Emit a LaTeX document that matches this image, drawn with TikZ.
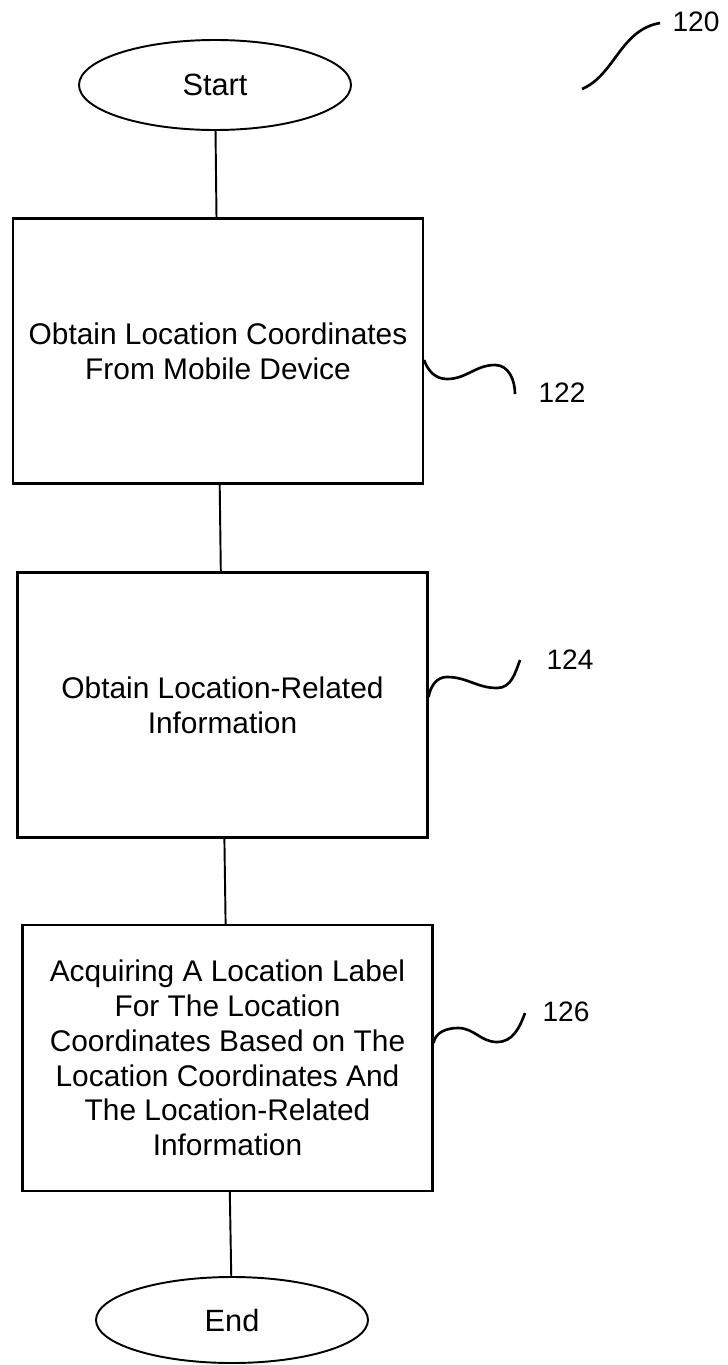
\documentclass[tikz,border=0pt]{standalone}
\usepackage{fontspec}
\setmainfont{Liberation Sans}
\usetikzlibrary{shapes.geometric}

\begin{document}
\begin{tikzpicture}[
    terminal/.style={draw, ellipse, line width=1.1pt, minimum width=5.44cm, minimum height=1.8cm, font=\fontsize{17.5}{19.8}\selectfont},
    stepbox/.style={draw, line width=1.2pt, minimum width=8.2cm, minimum height=5.3cm, align=center, font=\fontsize{17}{19.8}\selectfont},
    link/.style={line width=1.1pt},
    squiggle/.style={line width=1.5pt},
    refnum/.style={font=\fontsize{16}{18}\selectfont},
]
\useasboundingbox (0,0) rectangle (14.54,-27.3);

% flow
\node[terminal] (start) at (4.3, -1.7) {Start};
\node[stepbox] (coords) at (4.36, -7.02) {Obtain Location Coordinates\\From Mobile Device};
\node[stepbox] (related) at (4.45, -14.1) {Obtain Location-Related\\Information};
\node[stepbox, minimum height=5.32cm] (acquire) at (4.55, -21.16) {Acquiring A Location Label\\For The Location\\Coordinates Based on The\\Location Coordinates And\\The Location-Related\\Information};
\node[terminal, minimum height=1.72cm] (finish) at (4.64, -26.4) {End};

\draw[link] (start) -- (coords);
\draw[link] (coords) -- (related);
\draw[link] (related) -- (acquire);
\draw[link] (acquire) -- (finish);

% reference numerals
\node[refnum] (n120) at (13.92, -0.44) {120};
\node[refnum] (n122) at (11.24, -7.86) {122};
\node[refnum] (n124) at (11.4, -13.2) {124};
\node[refnum] (n126) at (11.32, -20.24) {126};

\coordinate (t120) at (13.2, -0.46);
\coordinate (t122) at (10.3, -7.88);
\coordinate (t124) at (10.4, -13.2);
\coordinate (t126) at (10.5, -20.26);

\draw[squiggle] (11.64, -1.78) .. controls (12.3, -1.5) and (12.4, -0.6) .. (t120);
\draw[squiggle] ([yshift=-0.18cm]coords.east) to[out=-70, in=180] (8.94, -7.58) to[out=0, in=180] (9.9, -7.3) to[out=0, in=90] (t122);
\draw[squiggle] ([yshift=0.16cm]related.east) to[out=80, in=180] (8.94, -13.54) to[out=0, in=180] (9.94, -13.76) to[out=0, in=-110] (t124);
\draw[squiggle] ([yshift=0.3cm]acquire.east) to[out=80, in=180] (9.16, -20.56) to[out=0, in=180] (9.94, -20.84) to[out=0, in=-110] (t126);

\end{tikzpicture}
\end{document}
